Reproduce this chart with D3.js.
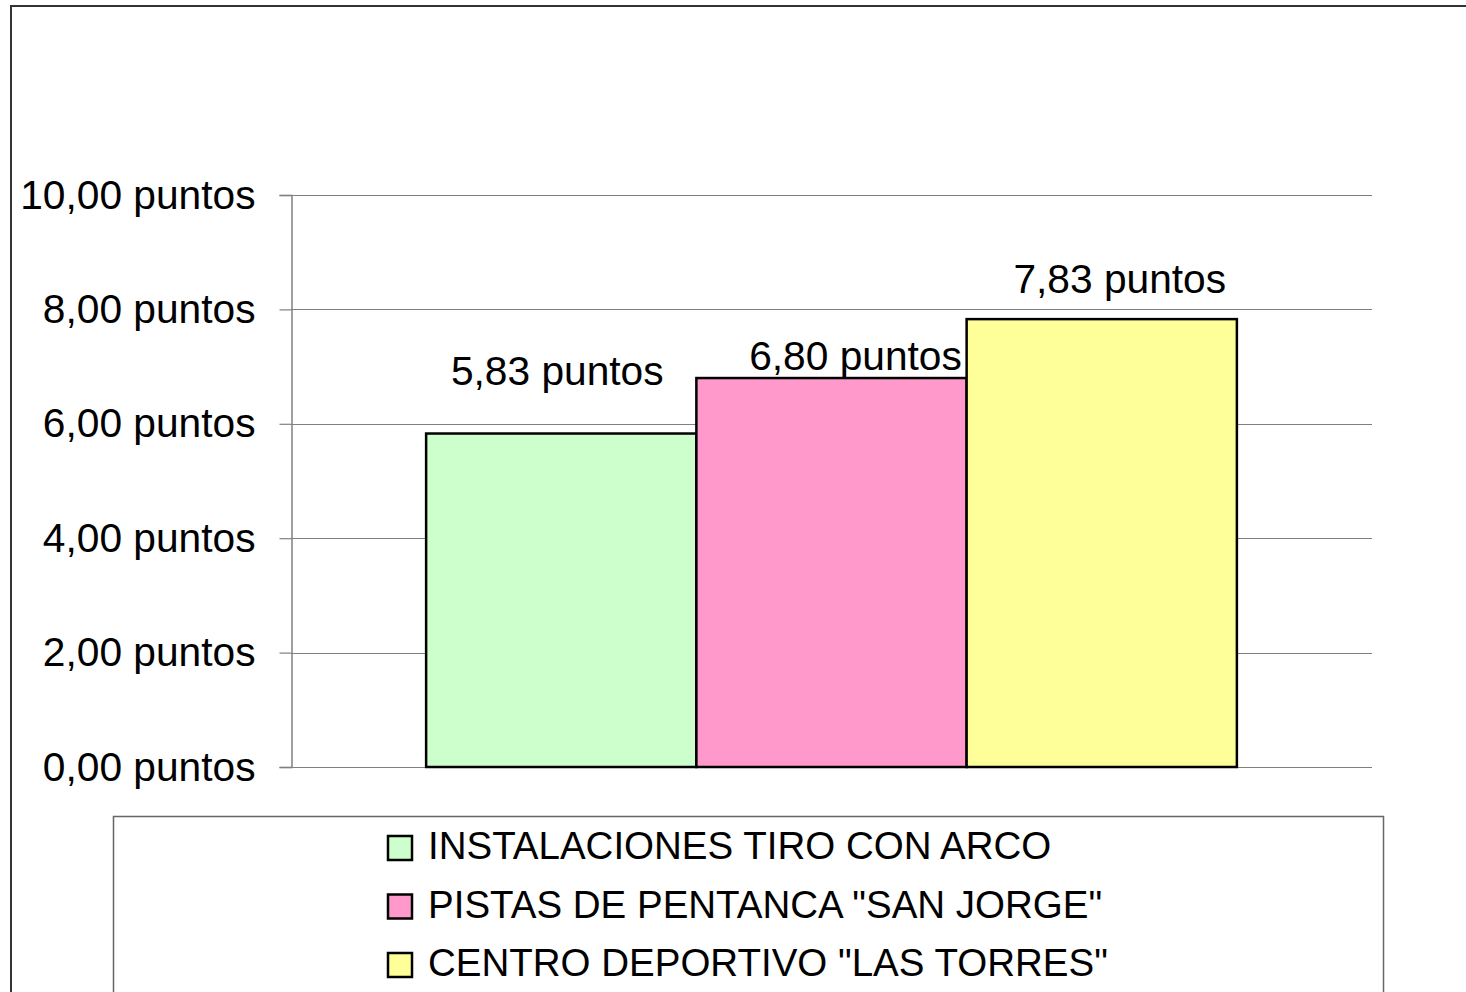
<!DOCTYPE html>
<html>
<head>
<meta charset="utf-8">
<script src="https://cdn.jsdelivr.net/npm/d3@7"></script>
<style>
	body { margin: 0; background: #fff; }
	svg { display: block; font-family: "Liberation Sans", Arial, sans-serif; }
</style>
</head>
<body>
<div></div>
<script>
// chart data
var categories = [""];
var seriesNames = ["INSTALACIONES TIRO CON ARCO", "PISTAS DE PENTANCA \"SAN JORGE\"", "CENTRO DEPORTIVO \"LAS TORRES\""];
var seriesValues = [5.83, 6.80, 7.83];
var seriesColors = ["#ccffcc", "#ff99cc", "#ffff99"];
var yTicks = [0, 2, 4, 6, 8, 10];

// label nudges (excel placed them a bit off-centre)
var labelDx = [-4, 24, 18];
var labelDy = [-49, -8, -26];

var W = 1466, H = 992;
var fmt = function(v) { return d3.format(".2f")(v).replace(".", ",") + " puntos"; };

var svg = d3.select("body").select("div").append("svg")
	.attr("width", W)
	.attr("height", H);

// outer chart border (runs off the page right and bottom)
svg.append("rect")
	.attr("x", 11)
	.attr("y", 6)
	.attr("width", 1500)
	.attr("height", 1050)
	.style("fill", "#fff")
	.attr("stroke", "#333")
	.attr("stroke-width", 2);

var x = d3.scaleBand()
	.domain(categories)
	.range([291, 1372])
	.paddingInner(0)
	.paddingOuter(1 / 6);

var xSeries = d3.scaleBand()
	.domain(d3.range(seriesValues.length))
	.range([0, x.bandwidth()]);

var y = d3.scaleLinear()
	.domain([0, 10])
	.range([767, 195]);

// gridlines
svg.append("g")
	.selectAll("line")
	.data(yTicks)
	.enter()
	.append("line")
	.attr("x1", 291)
	.attr("x2", 1372)
	.attr("y1", function(d) { return Math.round(y(d)) + 0.5; })
	.attr("y2", function(d) { return Math.round(y(d)) + 0.5; })
	.attr("stroke", "#808080")
	.attr("stroke-width", 1.2);

// y axis
var yAxis = svg.append("g")
	.attr("transform", "translate(291.5,0)")
	.call(d3.axisLeft(y).tickValues(yTicks).tickSize(12).tickPadding(24).tickFormat(fmt));
yAxis.select(".domain").attr("stroke", "#808080").attr("stroke-width", 1.5);
yAxis.selectAll(".tick line").attr("stroke", "#808080").attr("stroke-width", 1.2);
yAxis.selectAll(".tick text")
	.attr("fill", "#000")
	.style("font-size", "40.7px")
	.style("font-family", "'Liberation Sans', Arial, sans-serif");

// bars
var bars = svg.append("g")
	.attr("transform", "translate(" + x(categories[0]) + ",0)");

bars.selectAll("rect")
	.data(seriesValues)
	.enter()
	.append("rect")
	.attr("x", function(d, i) { return xSeries(i); })
	.attr("y", function(d) { return y(d); })
	.attr("width", xSeries.bandwidth())
	.attr("height", function(d) { return y(0) - y(d); })
	.style("fill", function(d, i) { return seriesColors[i]; })
	.attr("stroke", "#000")
	.attr("stroke-width", 2.5);

bars.selectAll("text")
	.data(seriesValues)
	.enter()
	.append("text")
	.attr("x", function(d, i) { return xSeries(i) + xSeries.bandwidth() / 2 + labelDx[i]; })
	.attr("y", function(d, i) { return y(d) + labelDy[i]; })
	.attr("text-anchor", "middle")
	.style("font-size", "40.7px")
	.text(fmt);

// legend
var legend = svg.append("g");
legend.append("rect")
	.attr("x", 113.5)
	.attr("y", 816.5)
	.attr("width", 1270)
	.attr("height", 300)
	.style("fill", "#fff")
	.attr("stroke", "#666")
	.attr("stroke-width", 1.5);

var rows = legend.selectAll("g.row")
	.data(seriesNames)
	.enter()
	.append("g")
	.attr("class", "row")
	.attr("transform", function(d, i) { return "translate(388," + (836 + i * 58.5) + ")"; });

rows.append("rect")
	.attr("width", 24)
	.attr("height", 24)
	.style("fill", function(d, i) { return seriesColors[i]; })
	.attr("stroke", "#000")
	.attr("stroke-width", 2.5);

rows.append("text")
	.attr("x", 40)
	.attr("y", 23)
	.style("font-size", "38.5px")
	.text(function(d) { return d; });
</script>
</body>
</html>
